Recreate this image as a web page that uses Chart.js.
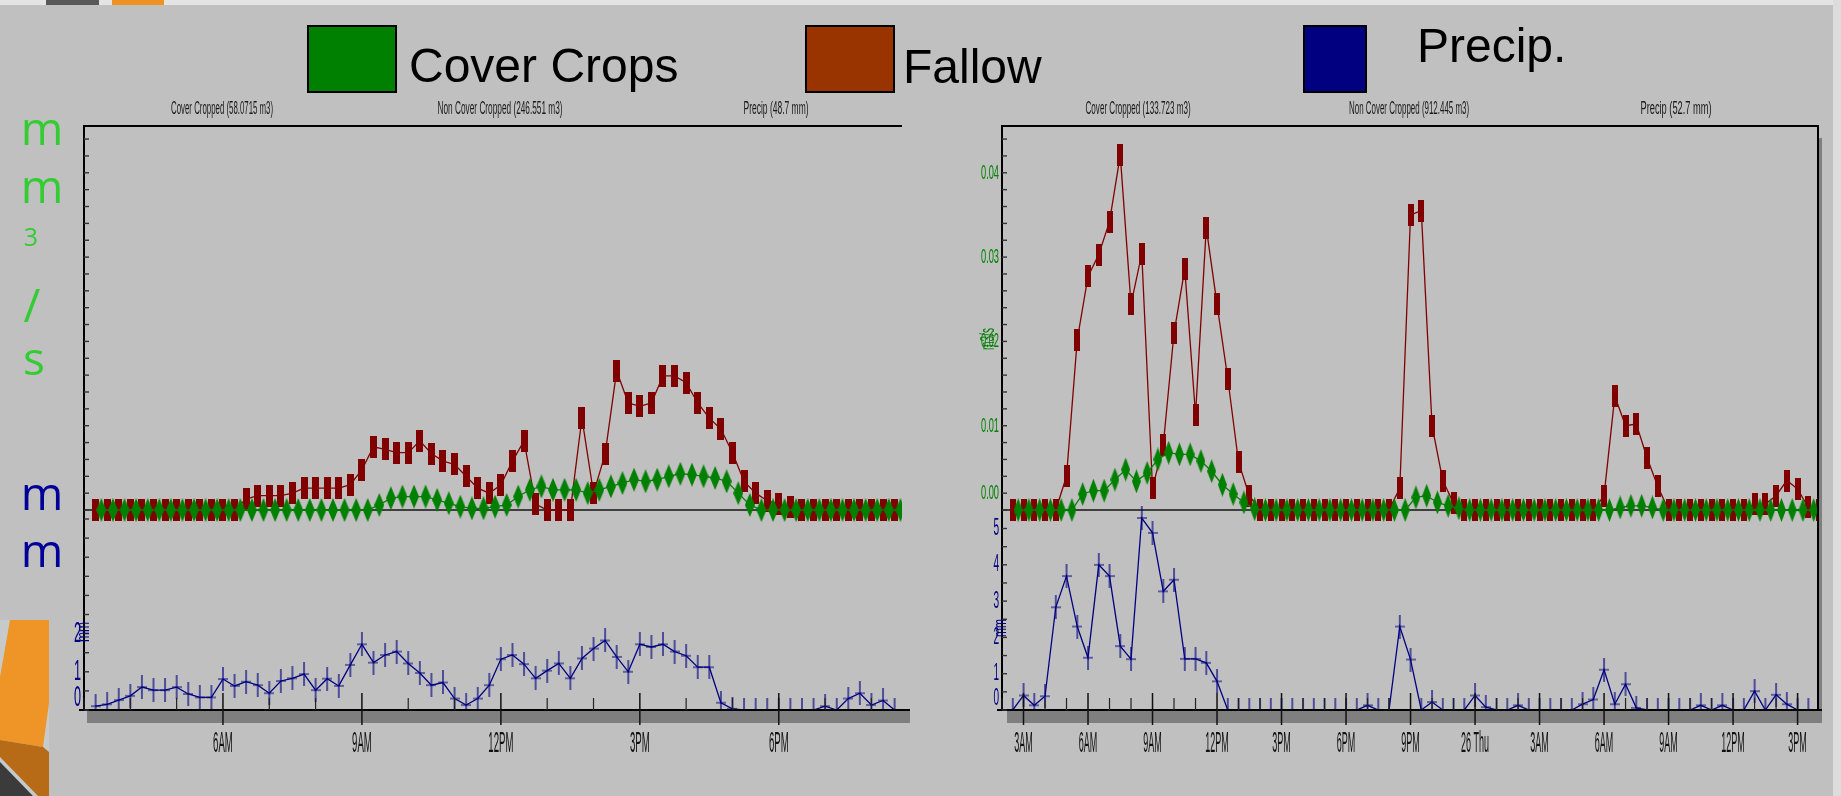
<!DOCTYPE html>
<html>
<head>
<meta charset="utf-8">
<title>Cover crops vs fallow runoff</title>
<script src="https://cdn.jsdelivr.net/npm/chart.js@4.4.1/dist/chart.umd.min.js"></script>
<style>
  html, body { margin: 0; padding: 0; }
  body { width: 1841px; height: 796px; background: #c0c0c0; position: relative; overflow: hidden; font-family: "Liberation Sans", Arial, sans-serif; }
  canvas { position: absolute; left: 0; top: 0; }
  .key { position: absolute; top: 25px; height: 68px; border: 2px solid #000; box-sizing: border-box; z-index: 2; }
  .keytxt { position: absolute; font-size: 48px; line-height: 48px; color: #000; white-space: nowrap; z-index: 2; }
  .ttl { position: absolute; top: 98px; font-size: 18px; line-height: 20px; color: #1a1a1a; white-space: nowrap; z-index: 2; }
  .unit { position: absolute; left: 0; width: 60px; text-align: center; font-family: "Open Sans", "Noto Sans", sans-serif; line-height: 1; z-index: 2; }
  .strip { position: absolute; z-index: 1; }
</style>
</head>
<body>

<!-- slide chrome -->
<div class="strip" style="left:0;top:0;width:1841px;height:5px;background:#e4e4e4"></div>
<div class="strip" style="left:46px;top:0;width:53px;height:5px;background:#595959"></div>
<div class="strip" style="left:112px;top:0;width:52px;height:5px;background:#ee9322"></div>
<div class="strip" style="left:1833px;top:0;width:8px;height:796px;background:#dcdcdc"></div>
<svg class="strip" style="left:0;top:600px" width="50" height="196" viewBox="0 600 50 196">
  <polygon points="0,620 49,620 49,796 0,796" fill="#c6caca"/>
  <polygon points="10,620 49,620 49,703 43,747 0,740 0,677" fill="#ef9427"/>
  <polygon points="0,740 43,747 49,752 49,796 38,796 0,757" fill="#b86b17"/>
  <polygon points="0,762 33,796 0,796" fill="#3b3b3b"/>
</svg>

<!-- legend -->
<div class="key" style="left:307px;width:90px;background:#008000"></div>
<div class="keytxt" style="left:409px;top:42px">Cover Crops</div>
<div class="key" style="left:805px;width:90px;background:#993300"></div>
<div class="keytxt" style="left:903px;top:43px">Fallow</div>
<div class="key" style="left:1303px;width:64px;background:#000080"></div>
<div class="keytxt" style="left:1417px;top:22px">Precip.</div>

<!-- panel titles -->
<div class="ttl" data-cx="222" data-w="102">Cover Cropped (58.0715 m3)</div>
<div class="ttl" data-cx="500" data-w="125">Non Cover Cropped (246.551 m3)</div>
<div class="ttl" data-cx="776" data-w="65">Precip (48.7 mm)</div>
<div class="ttl" data-cx="1138" data-w="105">Cover Cropped (133.723 m3)</div>
<div class="ttl" data-cx="1409" data-w="120">Non Cover Cropped (912.445 m3)</div>
<div class="ttl" data-cx="1676" data-w="71">Precip (52.7 mm)</div>

<!-- stacked unit label -->
<div class="unit" style="left:12px;top:104px;font-size:46px;color:#33cc33">m</div>
<div class="unit" style="left:12px;top:162px;font-size:46px;color:#33cc33">m</div>
<div class="unit" style="left:1px;top:224px;font-size:25px;color:#33cc33">3</div>
<div class="unit" style="left:2px;top:281px;font-size:46px;color:#33cc33">/</div>
<div class="unit" style="left:4px;top:334px;font-size:46px;color:#33cc33">s</div>
<div class="unit" style="left:12px;top:469px;font-size:46px;color:#000099">m</div>
<div class="unit" style="left:12px;top:526px;font-size:46px;color:#000099">m</div>

<canvas id="left" width="1841" height="796"></canvas>
<canvas id="right" width="1841" height="796"></canvas>

<script>
// ---- left panel: one storm day, 15 min steps from 3:15 AM (hours since midnight)
// the cover-crop gauge logs half a step after the fallow / rain gauges
const leftStart = 3.25, leftStep = 0.25, leftCoverStart = 3.375;
const leftFallow = [0,0,0,0,0,0,0,0,0,0,0,0,0,
  .0013,.0017,.0017,.0017,.0020,.0026,.0026,.0026,.0026,.0030,.0048,.0075,.0072,.0068,.0068,.0082,.0067,.0058,
  .0054,.0040,.0026,.0020,.0030,.0058,.0082,.0007,0,0,0,.0109,.0020,.0066,.0165,.0127,.0123,.0127,.0159,.0159,
  .0151,.0127,.0109,.0096,.0068,.0034,.0020,.0011,.0007,.0003,
  0,0,0,0,0,0,0,0,0,0];
const leftCover = [0,0,0,0,0,0,0,0,0,0,0,0,0,0,0,0,0,0,0,0,0,0,0,0,
  .0006,.0014,.0016,.0016,.0016,.0012,.0008,.0004,.0002,.0002,.0004,.0006,.0016,.0024,.0028,.0024,.0024,
  .0024,.0020,.0024,.0028,.0032,.0036,.0034,.0036,.0040,.0043,.0042,.0040,.0038,.0034,.0020,.0006,
  0,0,0,0,0,0,0,0,0,0,0,0,0,0];
const leftPrecip = [0.1,0.15,0.26,0.37,0.6,0.52,0.52,0.6,0.42,0.33,0.33,0.81,0.63,0.74,0.65,0.44,0.76,0.83,0.94,
  0.52,0.82,0.63,1.18,1.72,1.24,1.44,1.53,1.22,0.97,0.65,0.72,0.3,0.13,0.3,0.65,1.33,1.44,1.2,0.83,1.03,1.22,
  0.83,1.35,1.61,1.82,1.39,1.0,1.72,1.65,1.72,1.53,1.42,1.12,1.12,0.19,0.03,
  0,0,0,0,0,0,0,0.1,0,0.3,0.44,0.13,0.25,0,0];
const leftTickHours = [6, 9, 12, 15, 18];
const leftTickLabels = ['6AM', '9AM', '12PM', '3PM', '6PM'];
const leftPrecipLabels = ['0', '1', '2'];

// ---- right panel: Wed 2:30 AM to Thu 4 PM, 30 min steps
const rightStart = 2.5, rightStep = 0.5, rightCoverStart = 2.75;
const rightFallow = [0,0,0,0,0,.0040,.0202,.0277,.0303,.0342,.0421,.0244,.0304,.0026,.0077,.0210,.0286,.0113,
  .0335,.0244,.0156,.0057,.0017,0,0,0,0,0,0,0,0,0,0,0,0,0,.0026,.0350,.0355,.0100,.0035,.0008,
  0,0,0,0,0,0,0,0,0,0,0,0,0,.0017,.0135,.0100,.0102,.0062,.0028,0,0,0,0,0,0,0,0,
  .0007,.0007,.0017,.0035,.0025,.0003,0];
const rightCover = [0,0,0,0,0,0,.0019,.0023,.0023,.0036,.0048,.0034,.0044,.0060,.0068,.0066,.0066,.0058,.0046,
  .0030,.0019,.0009,.0001,0,0,0,0,0,0,0,0,0,0,0,0,0,0,.0015,.0017,.0009,.0005,.0002,
  0,0,0,0,0,0,0,0,0,0,0,0,0,0,.0003,.0005,.0005,.0003,0,0,0,0,0,0,0,0,0,0,0,0,0,0,0,0];
const rightPrecip = [0,0.4,0.13,0.38,2.83,3.69,2.3,1.44,4.0,3.69,1.76,1.4,5.29,4.88,3.27,3.59,1.41,1.41,1.3,0.79,
  0,0,0,0,0,0,0,0,0,0,0,0,0,0.13,0,0,2.3,1.39,0,0.22,0,0,0,0.4,0.08,0,0,0.13,0,0,0,0,0,
  0.16,0.29,1.11,0.16,0.71,0.06,0,0,0,0,0,0.13,0,0.13,0,0,0.52,0,0.42,0.16,0,0,0];
const rightTickHours = [3, 6, 9, 12, 15, 18, 21, 24, 27, 30, 33, 36, 39];
const rightTickLabels = ['3AM', '6AM', '9AM', '12PM', '3PM', '6PM', '9PM', '26 Thu', '3AM', '6AM', '9AM', '12PM', '3PM'];
const rightFlowValues = [0, 0.01, 0.02, 0.03, 0.04];
const rightFlowLabels = ['0.00', '0.01', '0.02', '0.03', '0.04'];
const rightPrecipLabels = ['0', '1', '2', '3', '4', '5'];

// squeeze the tiny panel titles to the width they have on the slide
document.querySelectorAll('.ttl').forEach(el => {
  const w = el.offsetWidth;
  el.style.left = (el.dataset.cx - w / 2) + 'px';
  el.style.transform = 'scaleX(' + (el.dataset.w / w) + ')';
});

function marker(w, h, paint) {
  const c = document.createElement('canvas');
  c.width = w; c.height = h;
  paint(c.getContext('2d'), w, h);
  return c;
}
const rectMark = w => marker(w, 22, (g, w, h) => { g.fillStyle = '#800000'; g.fillRect(0, 0, w, h); });
const diamondMark = w => marker(w, 24, (g, w, h) => {
  g.fillStyle = '#008000';
  g.beginPath(); g.moveTo(w / 2, 0); g.lineTo(w, h / 2); g.lineTo(w / 2, h); g.lineTo(0, h / 2); g.closePath(); g.fill();
});
const crossMark = w => marker(w, 24, (g, w, h) => {
  g.strokeStyle = '#000080'; g.lineWidth = 1.2;
  g.beginPath(); g.moveTo(w / 2, 0); g.lineTo(w / 2, h); g.moveTo(0, h / 2); g.lineTo(w, h / 2); g.stroke();
});

function txt(ctx, s, x, y, o) {
  ctx.save();
  ctx.font = o.font;
  const sx = o.fitW ? o.fitW / ctx.measureText(s).width : (o.sx || 1);
  ctx.translate(x, y);
  if (o.rot) ctx.rotate(o.rot);
  ctx.scale(sx, 1);
  ctx.fillStyle = o.color;
  ctx.textAlign = o.align || 'center';
  ctx.textBaseline = 'middle';
  ctx.fillText(s, 0, 0);
  ctx.restore();
}
function seg(ctx, x1, y1, x2, y2, w, c) {
  ctx.strokeStyle = c; ctx.lineWidth = w;
  ctx.beginPath(); ctx.moveTo(x1, y1); ctx.lineTo(x2, y2); ctx.stroke();
}

// frame, ticks and squeezed labels, all placed through the chart's own scales
const panelChrome = {
  id: 'panelChrome',
  beforeDatasetsDraw(chart, args, o) {
    const { ctx, chartArea: a, scales } = chart;
    const y0 = scales.yFlow.getPixelForValue(0);
    ctx.save();
    seg(ctx, a.left, y0, a.right, y0, 1.6, '#151515');
    ctx.restore();
  },
  afterDatasetsDraw(chart, args, o) {
    const { ctx, chartArea: a, scales } = chart;
    const x = scales.x, yf = scales.yFlow, yp = scales.yPrecip;
    ctx.save();
    ctx.fillStyle = '#7f7f7f';
    ctx.fillRect(a.left + o.bandInset, a.bottom, a.width - o.bandInset + o.bandOver, 13);
    if (o.rightFrame) ctx.fillRect(a.right, a.top + 12, o.bandOver, a.height);

    ctx.strokeStyle = '#000'; ctx.lineWidth = 2;
    ctx.beginPath();
    ctx.moveTo(a.left, a.bottom); ctx.lineTo(a.left, a.top); ctx.lineTo(a.right, a.top);
    if (o.rightFrame) ctx.lineTo(a.right, a.bottom);
    ctx.stroke();
    seg(ctx, a.left - 5, a.bottom, a.right + o.bandOver, a.bottom, 2, '#000');

    // inward ticks on the left axis: flow every 0.002, precip every 0.5 mm
    for (let v = 0; v <= 0.0441; v += 0.002) {
      const y = yf.getPixelForValue(v);
      seg(ctx, a.left, y, a.left + 5, y, 1.4, '#333');
    }
    for (let v = 0; v <= 5; v += 0.5) {
      const y = yp.getPixelForValue(v);
      seg(ctx, a.left, y, a.left + 5, y, 1.4, '#333');
    }

    // hourly ticks, long ones at the labelled hours
    for (let h = Math.ceil(x.min); h <= x.max; h++) {
      const px = x.getPixelForValue(h);
      if (o.tickHours.includes(h)) seg(ctx, px, a.bottom - 17, px, a.bottom + 15, 1.5, '#111');
      else seg(ctx, px, a.bottom - 12, px, a.bottom, 1.2, '#222');
    }
    o.tickHours.forEach((h, i) => {
      txt(ctx, o.tickLabels[i], x.getPixelForValue(h), 744, { font: '29px "Liberation Sans"', sx: o.xLabelSx, color: '#111' });
    });

    o.flowLabels.forEach((s, i) => {
      const v = o.flowValues[i];
      txt(ctx, s, a.left - 3, yf.getPixelForValue(v) - (v === 0 ? 17 : 0),
        { font: '21px "Liberation Sans"', sx: 0.44, color: '#008000', align: 'right' });
    });
    o.precipLabels.forEach((s, i) => {
      txt(ctx, s, a.left - 3, yp.getPixelForValue(i) - (i === 0 ? 12 : 0),
        { font: o.precipFont, sx: 0.42, color: '#000080', align: 'right' });
    });
    o.axisTitles.forEach(t => {
      txt(ctx, t.text, t.x, t.y, { font: t.font, fitW: t.len, color: t.color, rot: -Math.PI / 2 });
    });
    ctx.restore();
  }
};

const flowMin = -0.02372, flowMax = 0.04555;

function series(start, step, values) {
  return values.map((v, i) => ({ x: start + step * i, y: v }));
}
function lineSet(data, axis, color, mark) {
  return {
    data, yAxisID: axis, borderColor: color, borderWidth: 1.3, tension: 0, fill: false,
    pointStyle: mark, pointRadius: 6, pointHoverRadius: 6, clip: 0
  };
}

function buildPanel(id, p) {
  return new Chart(document.getElementById(id), {
    type: 'line',
    data: {
      datasets: [
        lineSet(series(p.start, p.step, p.precip), 'yPrecip', '#000080', crossMark(p.crossW)),
        lineSet(series(p.coverStart, p.step, p.cover), 'yFlow', '#008000', diamondMark(p.diamondW)),
        lineSet(series(p.start, p.step, p.fallow), 'yFlow', '#800000', rectMark(p.rectW))
      ]
    },
    options: {
      responsive: false, animation: false, events: [],
      layout: { padding: p.padding },
      scales: {
        x: { type: 'linear', display: false, min: p.xMin, max: p.xMax },
        yFlow: { type: 'linear', display: false, min: flowMin, max: flowMax },
        yPrecip: { type: 'linear', display: false, min: 0, max: p.precipMax }
      },
      plugins: { legend: { display: false }, tooltip: { enabled: false }, panelChrome: p.chrome }
    },
    plugins: [panelChrome]
  });
}

buildPanel('left', {
  start: leftStart, coverStart: leftCoverStart, step: leftStep,
  precip: leftPrecip, cover: leftCover, fallow: leftFallow,
  crossW: 10, diamondW: 10, rectW: 7,
  padding: { left: 84, top: 126, right: 939, bottom: 86 },
  xMin: 3, xMax: 20.66, precipMax: 15.29,
  chrome: {
    bandInset: 3, bandOver: 8, rightFrame: false,
    tickHours: leftTickHours, tickLabels: leftTickLabels, xLabelSx: 0.33,
    flowValues: [], flowLabels: [], precipLabels: leftPrecipLabels, precipFont: '30px "Liberation Sans"',
    axisTitles: [{ text: 'mm', x: 84, y: 632, len: 20, font: '18px "Liberation Sans"', color: '#000080' }]
  }
});

buildPanel('right', {
  start: rightStart, coverStart: rightCoverStart, step: rightStep,
  precip: rightPrecip, cover: rightCover, fallow: rightFallow,
  crossW: 10, diamondW: 9, rectW: 6,
  padding: { left: 1002, top: 126, right: 23, bottom: 86 },
  xMin: 2, xMax: 39.95, precipMax: 16.09,
  chrome: {
    bandInset: 5, bandOver: 4, rightFrame: true,
    tickHours: rightTickHours, tickLabels: rightTickLabels, xLabelSx: 0.31,
    flowValues: rightFlowValues, flowLabels: rightFlowLabels, precipLabels: rightPrecipLabels,
    precipFont: '24px "Liberation Sans"',
    axisTitles: [
      { text: 'mm', x: 1001, y: 628, len: 18, font: '18px "Liberation Sans"', color: '#000080' },
      { text: 'm3/s', x: 988, y: 339, len: 22, font: '20px "Liberation Sans"', color: '#008000' }
    ]
  }
});
</script>
</body>
</html>
